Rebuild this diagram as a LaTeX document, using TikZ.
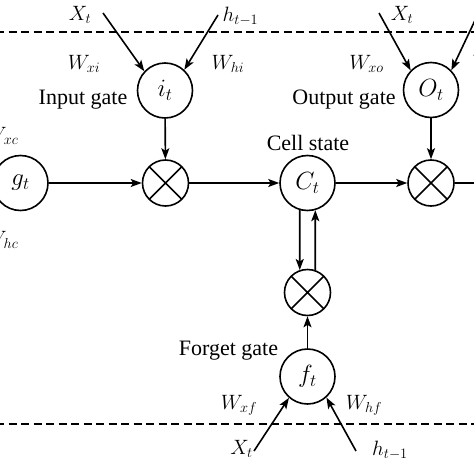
\documentclass[tikz,border=0pt]{standalone}
\usepackage{fontspec}
\setmainfont{Liberation Serif}
\usetikzlibrary{arrows.meta}
\begin{document}
\begin{tikzpicture}[x=1pt,y=-1pt,
  gatenode/.style={circle,draw,line width=1.6pt,minimum size=55pt,inner sep=0pt,font=\fontsize{23}{27}\selectfont},
  multnode/.style={circle,draw,line width=1.6pt,minimum size=46pt,inner sep=0pt,
    path picture={\draw[line width=1.6pt] (path picture bounding box.north west)--(path picture bounding box.south east)
      (path picture bounding box.north east)--(path picture bounding box.south west);}},
  arr/.style={line width=1.6pt,-{Stealth[length=11pt,width=8pt,inset=2.5pt]}},
  conn/.style={line width=1.6pt},
  lbl/.style={font=\fontsize{22}{26}\selectfont,inner sep=0pt},
  dashline/.style={line width=1.4pt,dash pattern=on 8pt off 4.5pt}
]
\useasboundingbox (0,0) rectangle (474,474);
\clip (0,0) rectangle (474,474);

% dashed separators
\draw[dashline] (-4,32) -- (480,32);
\draw[dashline] (-4,424) -- (480,424);

% nodes
\node[gatenode] (gt) at (20.5,183) {$g_t$};
\node[multnode] (m1) at (165.5,183) {};
\node[gatenode] (it) at (165,90.5) {$i_t$};
\node[gatenode] (Ct) at (307.5,183) {$C_t$};
\node[gatenode] (Ot) at (431,90) {$O_t$};
\node[multnode] (m2) at (431,183) {};
\node[multnode] (m3) at (307.5,292.5) {};
\node[gatenode] (ft) at (307.5,376.5) {$f_t$};

% free ends
\coordinate (xi) at (103,13);
\coordinate (hi) at (218,15);
\coordinate (xo) at (379,13);
\coordinate (ho) at (487,-5);
\coordinate (xf) at (254,451);
\coordinate (hf) at (356,451);
\coordinate (out) at (480,183);
\coordinate (xc) at (-40,120);
\coordinate (hc) at (-40,246);

% labels
\node[lbl] (lxi) at (80,15) {$X_t$};
\node[lbl] (lhi) at (240.5,16.5) {$h_{t-1}$};
\node[lbl] (lwxi) at (84,64) {$W_{xi}$};
\node[lbl] (lwhi) at (228,64) {$W_{hi}$};
\node[lbl] (lin) at (83,99.5) {Input gate};
\node[lbl] (lxo) at (402,15) {$X_t$};
\node[lbl] (lwxo) at (366.5,64) {$W_{xo}$};
\node[lbl,anchor=west] (lwho) at (472,64) {$W_{ho}$};
\node[lbl] (lout) at (344,99.5) {Output gate};
\node[lbl] (lcell) at (308,142.5) {Cell state};
\node[lbl] (lfg) at (228.5,350.5) {Forget gate};
\node[lbl] (lwxf) at (239,405) {$W_{xf}$};
\node[lbl] (lwhf) at (364,405) {$W_{hf}$};
\node[lbl] (lxf) at (241.5,449) {$X_t$};
\node[lbl] (lhf) at (390,450) {$h_{t-1}$};
\node[lbl] (lwxc) at (1.5,136) {$W_{xc}$};
\node[lbl] (lwhc) at (1.5,240) {$W_{hc}$};

% connectors
\draw[arr] (gt) -- (m1);
\draw[arr] (it) -- (m1);
\draw[arr] (m1) -- (Ct);
\draw[arr] (Ct) -- (m2);
\draw[arr] (Ot) -- (m2);
\draw[conn] (m2) -- (out);
\draw[arr] (ft) -- (m3);
\draw[arr] (Ct.254) -- (m3.109);
\draw[arr] (m3.71) -- (Ct.286);
\draw[arr] (xi) -- (it.137);
\draw[arr] (hi) -- (it.47);
\draw[arr] (xo) -- (Ot.136);
\draw[arr] (ho) -- (Ot.44);
\draw[arr] (xf) -- (ft.229);
\draw[arr] (hf) -- (ft.312);
\draw[arr] (xc) -- (gt.138);
\draw[arr] (hc) -- (gt.222);
\end{tikzpicture}
\end{document}
